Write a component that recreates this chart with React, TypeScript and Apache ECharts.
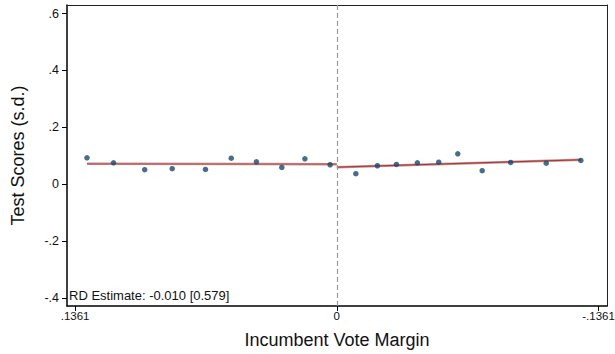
import React, { useEffect, useRef } from "react";
import * as echarts from "echarts";

const leftX = [0.1299, 0.1161, 0.0999, 0.0856, 0.0683, 0.0549, 0.0418, 0.0286, 0.0166, 0.0035];
const leftY = [0.0935, 0.076, 0.0515, 0.055, 0.0525, 0.092, 0.0795, 0.0595, 0.09, 0.069];
const rightX = [-0.0099, -0.0211, -0.031, -0.0419, -0.053, -0.0629, -0.0756, -0.0904, -0.1089, -0.1269];
const rightY = [0.0375, 0.0655, 0.07, 0.076, 0.078, 0.1075, 0.048, 0.077, 0.0746, 0.084];
const leftFit = [[0.1299, 0.0722], [0, 0.071]];
const rightFit = [[0, 0.0606], [-0.1269, 0.0865]];
const xTicks = [0.1361, 0, -0.1361];
const xTickLabels = [".1361", "0", "-.1361"];
const yTicks = [-0.4, -0.2, 0, 0.2, 0.4, 0.6];
const yTickLabels = ["-.4", "-.2", "0", ".2", ".4", ".6"];
const rdText = "RD Estimate: -0.010 [0.579]";

const FONT = "'Liberation Sans', Arial, Helvetica, sans-serif";
const X_MIN = -0.1405;
const X_MAX = 0.1403;
const Y_MIN = -0.427;
const Y_MAX = 0.63;

export default function App() {
  const ref = useRef<HTMLDivElement>(null);
  useEffect(() => {
    if (!ref.current) return;
    const chart = echarts.init(ref.current, undefined, { renderer: "svg" });
    const pts = (xs: number[], ys: number[]) => xs.map((x, i) => [x, ys[i]]);
    const fitSeries = (data: number[][], darkOpacity: number) => [
      {
        type: "line",
        data,
        symbol: "none",
        lineStyle: { color: "#c98a8a", width: 2.5 },
        z: 3,
      },
      {
        type: "line",
        data,
        symbol: "none",
        lineStyle: { color: "#962020", width: 1, opacity: darkOpacity },
        z: 4,
      },
    ];
    const frameAxisX = {
      type: "value",
      position: "top",
      inverse: true,
      min: X_MIN,
      max: X_MAX,
      splitLine: { show: false },
      axisLine: { show: true, onZero: false, lineStyle: { color: "#222", width: 1 } },
      axisTick: { show: false },
      axisLabel: { show: false },
    };
    const frameAxisY = {
      type: "value",
      position: "right",
      min: Y_MIN,
      max: Y_MAX,
      splitLine: { show: false },
      axisLine: { show: true, onZero: false, lineStyle: { color: "#222", width: 1 } },
      axisTick: { show: false },
      axisLabel: { show: false },
    };
    chart.setOption({
      animation: false,
      textStyle: { fontFamily: FONT },
      grid: {
        left: 67,
        right: 8,
        top: 5,
        bottom: 48,
        containLabel: false,
        outerBoundsMode: "none",
      },
      xAxis: [
        {
          type: "value",
          inverse: true,
          min: X_MIN,
          max: X_MAX,
          splitLine: { show: false },
          axisLine: { show: true, onZero: false, lineStyle: { color: "#000", width: 1.5 } },
          axisTick: { show: true, length: 5, customValues: xTicks, lineStyle: { color: "#000" } },
          axisLabel: {
            customValues: xTicks,
            fontSize: 11.5,
            color: "#111",
            margin: 4,
            formatter: (v: number) => {
              const i = xTicks.findIndex((t) => Math.abs(t - v) < 1e-6);
              return i >= 0 ? xTickLabels[i] : "";
            },
          },
          name: "Incumbent Vote Margin",
          nameLocation: "middle",
          nameGap: 25,
          nameTextStyle: { fontSize: 18, color: "#111", fontFamily: FONT },
        },
        frameAxisX,
      ],
      yAxis: [
        {
          type: "value",
          min: Y_MIN,
          max: Y_MAX,
          splitLine: { show: false },
          axisLine: { show: true, onZero: false, lineStyle: { color: "#000", width: 1.5 } },
          axisTick: { show: true, length: 5, customValues: yTicks, lineStyle: { color: "#000" } },
          axisLabel: {
            customValues: yTicks,
            fontSize: 12.5,
            color: "#111",
            margin: 8,
            formatter: (v: number) => {
              const i = yTicks.findIndex((t) => Math.abs(t - v) < 1e-6);
              return i >= 0 ? yTickLabels[i] : "";
            },
          },
          name: "Test Scores (s.d.)",
          nameLocation: "middle",
          nameGap: 40,
          nameTextStyle: { fontSize: 18, color: "#111", fontFamily: FONT },
        },
        frameAxisY,
      ],
      series: [
        {
          type: "scatter",
          data: [],
          markLine: {
            silent: true,
            symbol: "none",
            label: { show: false },
            lineStyle: { color: "#9a9a9a", type: [5, 3], width: 1.2 },
            data: [{ xAxis: 0 }],
          },
        },
        ...fitSeries(leftFit, 0.45),
        ...fitSeries(rightFit, 0.8),
        {
          type: "scatter",
          data: pts(leftX, leftY),
          symbolSize: 5.5,
          itemStyle: { color: "#1a476f" },
          z: 5,
        },
        {
          type: "scatter",
          data: pts(rightX, rightY),
          symbolSize: 5.5,
          itemStyle: { color: "#1a476f" },
          z: 5,
        },
      ],
      graphic: [
        {
          type: "text",
          left: 69,
          top: 289,
          style: { text: rdText, fontSize: 13, fill: "#111", fontFamily: FONT },
          z: 10,
        },
      ],
    });
    return () => chart.dispose();
  }, []);
  return <div ref={ref} style={{ width: 615, height: 354, position: "absolute", left: 0, top: 0 }} />;
}
